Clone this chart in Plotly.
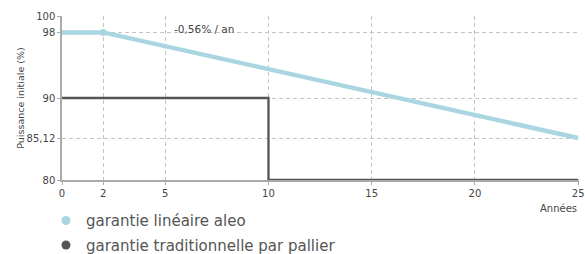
import plotly.graph_objects as go

years_lin = [0, 2, 25]
vals_lin = [98, 98, 85.12]
years_step = [0, 10, 10, 25]
vals_step = [90, 90, 80, 80]
x_ticks = [0, 2, 5, 10, 15, 20, 25]
y_ticks = [80, 85.12, 90, 98, 100]
y_ticklabels = ["80", "85,12", "90", "98", "100"]
names = ["garantie linéaire aleo", "garantie traditionnelle par pallier"]

blue = "#a9d6e1"
dark = "#555555"
font = "DejaVu Sans"

fig = go.Figure()
fig.add_trace(go.Scatter(x=years_step, y=vals_step, mode="lines",
                         line=dict(color=dark, width=2.3), showlegend=False, cliponaxis=False))
fig.add_trace(go.Scatter(x=years_lin, y=vals_lin, mode="lines",
                         line=dict(color=blue, width=4.5), showlegend=False, cliponaxis=False))
fig.add_trace(go.Scatter(x=[years_lin[1]], y=[vals_lin[1]], mode="markers",
                         marker=dict(color=blue, size=7), showlegend=False, cliponaxis=False))
fig.add_trace(go.Scatter(x=[None], y=[None], mode="markers", name=names[0],
                         marker=dict(color=blue, size=9), legendgroup="a"))
fig.add_trace(go.Scatter(x=[None], y=[None], mode="markers", name=names[1],
                         marker=dict(color=dark, size=9), legendgroup="b"))

fig.update_layout(
    width=585, height=254,
    margin=dict(l=62, r=6, t=16, b=74, autoexpand=False),
    paper_bgcolor="white", plot_bgcolor="white",
    font=dict(family=font, color="#444", size=10),
    legend=dict(x=-0.031, y=-0.148, xanchor="left", yanchor="top",
                font=dict(size=15, color="#555", family=font), traceorder="grouped",
                tracegroupgap=2, itemwidth=30),
    xaxis=dict(range=[0, 25.04], tickvals=x_ticks, showgrid=True, automargin=False,
               gridcolor="#c4c4c4", griddash="4px,3px", gridwidth=1,
               showline=True, linecolor="#aaaaaa", linewidth=1.5,
               ticks="outside", ticklen=3, tickcolor="#aaaaaa", ticklabeloverflow="allow",
               tickfont=dict(size=10, color="#444"), zeroline=False),
    yaxis=dict(range=[80, 100], tickvals=y_ticks, ticktext=y_ticklabels, automargin=False,
               showgrid=True, gridcolor="#c4c4c4", griddash="4px,3px", gridwidth=1,
               showline=True, linecolor="#aaaaaa", linewidth=1.5,
               ticks="outside", ticklen=3, tickcolor="#aaaaaa", ticklabeloverflow="allow",
               tickfont=dict(size=10, color="#444"), zeroline=False,
               title=dict(text="Puissance initiale (%)", font=dict(size=9.5, color="#444"),
                          standoff=0)),
    annotations=[
        dict(x=6.9, y=98.4, xref="x", yref="y", text="-0,56% / an", showarrow=False,
             font=dict(size=10.5, color="#444")),
        dict(x=1, y=-0.171, xref="paper", yref="paper", text="Années", showarrow=False,
             xanchor="right", yanchor="middle", font=dict(size=10, color="#444")),
    ],
)

fig.write_html("out.html", config={"displayModeBar": False},
               post_script="document.body.style.margin='0';document.body.style.overflow='hidden';")
